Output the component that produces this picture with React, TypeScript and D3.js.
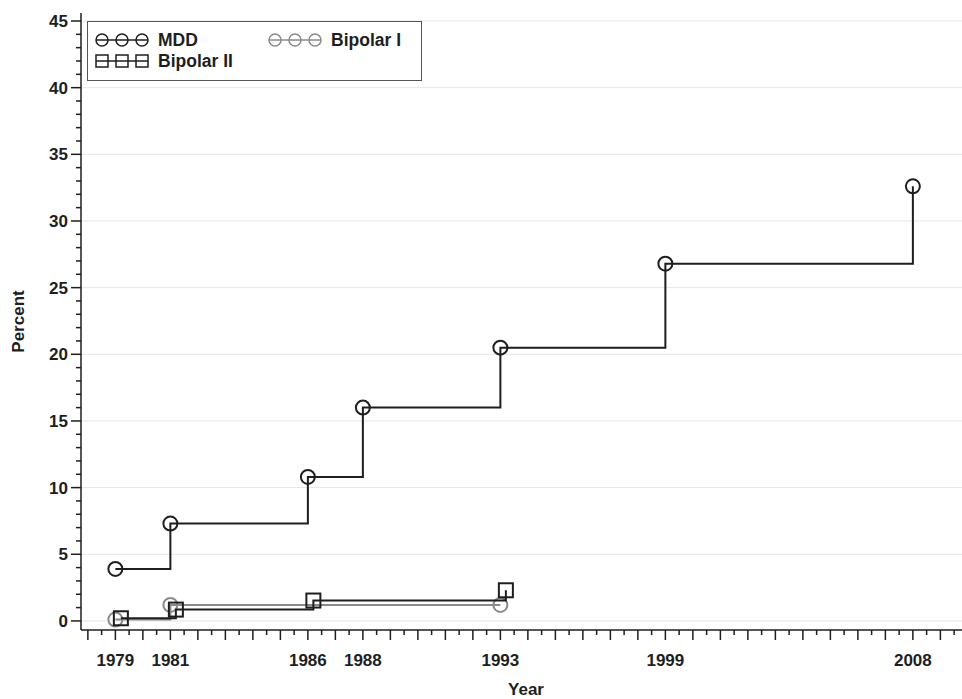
import React from "react";
import * as d3 from "d3";

const mddYears = [1979, 1981, 1986, 1988, 1993, 1999, 2008];
const mddValues = [3.9, 7.3, 10.8, 16.0, 20.5, 26.8, 32.6];
const bp1Years = [1979, 1981, 1993];
const bp1Values = [0.1, 1.2, 1.2];
const bp2Years = [1979, 1981, 1986, 1993];
const bp2Values = [0.2, 0.85, 1.53, 2.3];
const xTickLabels = [1979, 1981, 1986, 1988, 1993, 1999, 2008];
const yTickLabels = [0, 5, 10, 15, 20, 25, 30, 35, 40, 45];
const bp2Offset = 0.2;

const W = 962;
const H = 699;
const FONT = "'Liberation Sans', Arial, sans-serif";
const DARK = "#1e1e1e";
const GRAY = "#8a8a8a";

export default function App() {
  const x = d3.scaleLinear().domain([1977.75, 2010]).range([81, 81 + 32.25 * 27.5]);
  const y = d3.scaleLinear().domain([-0.68, 45.6]).range([630, 13]);
  const line = d3
    .line<[number, number]>()
    .x((d) => x(d[0]))
    .y((d) => y(d[1]))
    .curve(d3.curveStepAfter);

  const mdd: [number, number][] = mddYears.map((yr, i) => [yr, mddValues[i]]);
  const bp1: [number, number][] = bp1Years.map((yr, i) => [yr, bp1Values[i]]);
  const bp2: [number, number][] = bp2Years.map((yr, i) => [yr + bp2Offset, bp2Values[i]]);

  const majorX = d3.range(1978, 2010, 1);
  const minorX = d3.range(1978.5, 2010, 1);
  const minorY = d3.range(0, 46, 1).filter((v) => v % 5 !== 0);

  const x0 = 81;
  const yBase = 630;

  return (
    <svg width={W} height={H} style={{ position: "absolute", left: 0, top: 0, background: "#fff" }} fontFamily={FONT}>
      {/* grid */}
      {yTickLabels.map((v) => (
        <line key={"g" + v} x1={x0} x2={W} y1={y(v)} y2={y(v)} stroke="#e6e6e6" strokeWidth={1} />
      ))}
      {/* axes */}
      <line x1={x0} x2={x0} y1={13} y2={yBase} stroke={DARK} strokeWidth={1.5} />
      <line x1={x0} x2={W} y1={yBase} y2={yBase} stroke={DARK} strokeWidth={1.5} />
      {yTickLabels.map((v) => (
        <g key={"yt" + v}>
          <line x1={x0 - 10} x2={x0} y1={y(v)} y2={y(v)} stroke={DARK} strokeWidth={1.5} />
          <text x={68} y={y(v)} dy="0.36em" textAnchor="end" fontSize={17} fontWeight="bold" fill={DARK}>
            {v}
          </text>
        </g>
      ))}
      {minorY.map((v) => (
        <line key={"ym" + v} x1={x0 - 5} x2={x0} y1={y(v)} y2={y(v)} stroke={DARK} strokeWidth={1.5} />
      ))}
      {majorX.map((v) => (
        <line key={"xt" + v} x1={x(v)} x2={x(v)} y1={yBase} y2={yBase + 10} stroke={DARK} strokeWidth={1.5} />
      ))}
      {minorX.map((v) => (
        <line key={"xm" + v} x1={x(v)} x2={x(v)} y1={yBase} y2={yBase + 5} stroke={DARK} strokeWidth={1.5} />
      ))}
      {xTickLabels.map((v) => (
        <text key={"xl" + v} x={x(v)} y={666} textAnchor="middle" fontSize={17} fontWeight="bold" fill={DARK}>
          {v}
        </text>
      ))}
      <text x={526} y={695} textAnchor="middle" fontSize={17} fontWeight="bold" fill={DARK}>
        Year
      </text>
      <text
        transform={`translate(24,${(13 + yBase) / 2}) rotate(-90)`}
        textAnchor="middle"
        fontSize={17}
        fontWeight="bold"
        fill={DARK}
      >
        Percent
      </text>

      {/* series */}
      <path d={line(bp1) || ""} fill="none" stroke={GRAY} strokeWidth={2} />
      {bp1.map((d, i) => (
        <circle key={"b1" + i} cx={x(d[0])} cy={y(d[1])} r={7} fill="none" stroke={GRAY} strokeWidth={2} />
      ))}
      <path d={line(bp2) || ""} fill="none" stroke={DARK} strokeWidth={2} />
      {bp2.map((d, i) => (
        <rect key={"b2" + i} x={x(d[0]) - 7} y={y(d[1]) - 7} width={14} height={14} fill="none" stroke={DARK} strokeWidth={2} />
      ))}
      <path d={line(mdd) || ""} fill="none" stroke={DARK} strokeWidth={2} />
      {mdd.map((d, i) => (
        <circle key={"m" + i} cx={x(d[0])} cy={y(d[1])} r={7} fill="none" stroke={DARK} strokeWidth={2} />
      ))}

      {/* legend */}
      <rect x={87.5} y={21.5} width={334} height={59} fill="#fff" stroke="#555" strokeWidth={1} />
      <g>
        <line x1={96} x2={148} y1={40} y2={40} stroke={DARK} strokeWidth={1.5} />
        {[102, 122, 142].map((cx) => (
          <circle key={"lm" + cx} cx={cx} cy={40} r={6} fill="none" stroke={DARK} strokeWidth={1.5} />
        ))}
        <text x={158} y={40} dy="0.36em" fontSize={17.5} fontWeight="bold" fill={DARK}>MDD</text>
      </g>
      <g>
        <line x1={269} x2={321} y1={40} y2={40} stroke={GRAY} strokeWidth={1.5} />
        {[275, 295, 315].map((cx) => (
          <circle key={"l1" + cx} cx={cx} cy={40} r={6} fill="none" stroke={GRAY} strokeWidth={1.5} />
        ))}
        <text x={331} y={40} dy="0.36em" fontSize={17.5} fontWeight="bold" fill={DARK}>Bipolar I</text>
      </g>
      <g>
        <line x1={96} x2={148} y1={61} y2={61} stroke={DARK} strokeWidth={1.5} />
        {[102, 122, 142].map((cx) => (
          <rect key={"l2" + cx} x={cx - 6} y={55} width={12} height={12} fill="none" stroke={DARK} strokeWidth={1.5} />
        ))}
        <text x={158} y={61} dy="0.36em" fontSize={17.5} fontWeight="bold" fill={DARK}>Bipolar II</text>
      </g>
    </svg>
  );
}
